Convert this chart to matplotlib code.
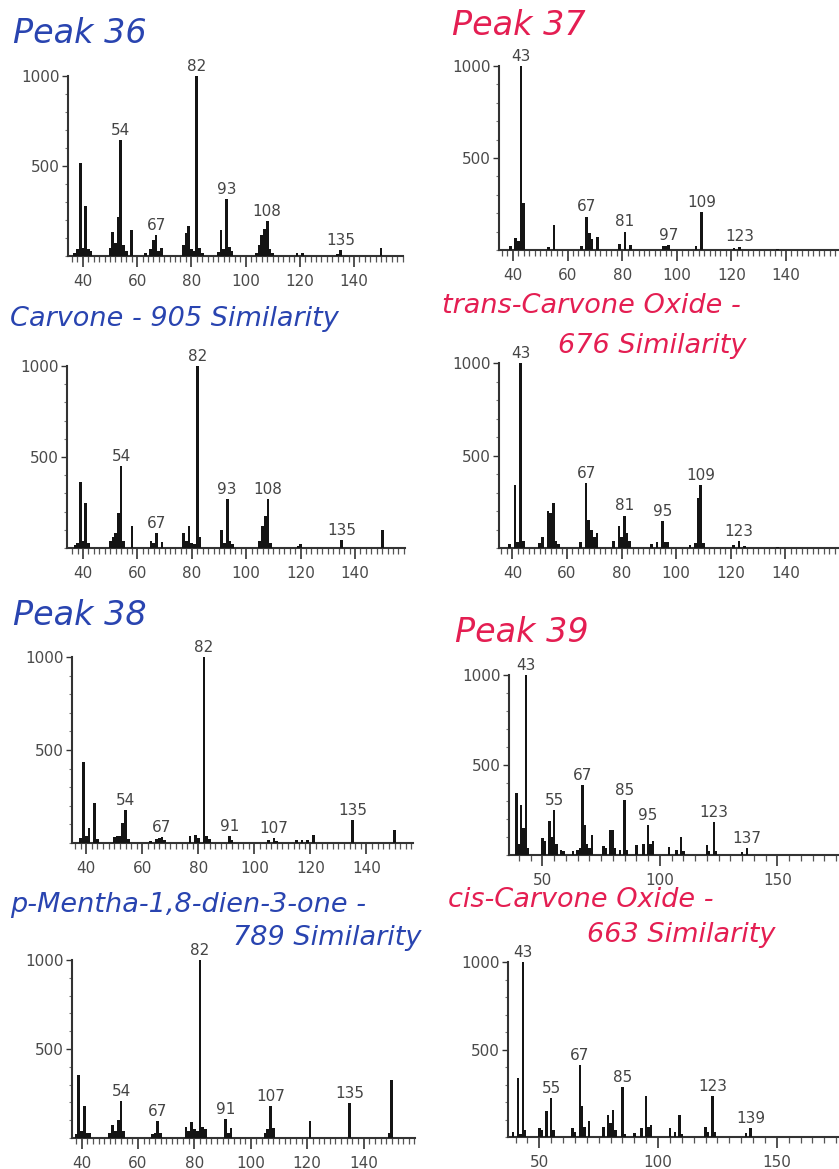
import matplotlib
matplotlib.use("Agg")
import matplotlib.pyplot as plt
from matplotlib.ticker import MultipleLocator

W, H = 839, 1169
BLUE = "#2944b0"
RED = "#e41e52"

# Peak 36 (measured)
p36_mz = [37, 38, 39, 40, 41, 42, 43, 50, 51, 52, 53, 54, 55, 56, 58, 63, 65, 66, 67, 68, 69,
          77, 78, 79, 80, 81, 82, 83, 84, 90, 91, 92, 93, 94, 95, 104, 105, 106, 107, 108, 109,
          110, 119, 121, 134, 135, 150]
p36_int = [15, 40, 515, 45, 278, 40, 30, 45, 135, 70, 218, 644, 60, 30, 144, 15, 40, 89, 117, 30, 43,
           60, 126, 167, 40, 30, 1000, 43, 15, 20, 144, 40, 315, 52, 30, 15, 60, 117, 150, 196, 40,
           15, 15, 15, 10, 35, 45]
p36_lab = [54, 67, 82, 93, 108, 135]

# Carvone (library)
carv_mz = [37, 38, 39, 40, 41, 42, 50, 51, 52, 53, 54, 55, 58, 65, 66, 67, 69, 77, 78, 79, 80, 81,
           82, 83, 91, 92, 93, 94, 95, 105, 106, 107, 108, 109, 119, 120, 135, 150]
carv_int = [15, 30, 360, 40, 247, 25, 40, 60, 80, 192, 448, 40, 119, 40, 30, 82, 35, 80, 40, 122, 30, 20,
            1000, 60, 100, 30, 269, 40, 20, 40, 120, 175, 269, 30, 10, 20, 45, 100]
carv_lab = [54, 67, 82, 93, 108, 135]

# Peak 37 (measured)
p37_mz = [39, 41, 42, 43, 44, 53, 55, 65, 67, 68, 69, 71, 79, 81, 83, 95, 96, 97, 107, 109, 121, 123, 137]
p37_int = [20, 63, 50, 1000, 254, 15, 136, 20, 181, 90, 60, 69, 30, 100, 25, 20, 22, 27, 20, 208, 10, 18, 8]
p37_lab = [43, 67, 81, 97, 109, 123]

# trans-Carvone Oxide (library)
trans_mz = [39, 41, 42, 43, 44, 50, 51, 53, 54, 55, 56, 57, 65, 67, 68, 69, 70, 71, 77, 79, 80, 81, 82,
            83, 91, 93, 95, 96, 97, 105, 107, 108, 109, 110, 121, 123, 125, 137]
trans_int = [20, 342, 30, 1000, 36, 25, 60, 200, 190, 243, 40, 20, 30, 351, 153, 100, 60, 80, 40, 117, 60,
             175, 80, 40, 20, 30, 144, 35, 30, 15, 25, 270, 342, 25, 15, 36, 10, 8]
trans_lab = [43, 67, 81, 95, 109, 123]

# Peak 38 (measured)
p38_mz = [38, 39, 40, 41, 43, 44, 50, 51, 52, 53, 54, 55, 63, 65, 66, 67, 68, 77, 79, 80, 82, 83, 84,
          91, 92, 105, 107, 108, 115, 117, 119, 121, 135, 150]
p38_int = [25, 437, 40, 80, 214, 20, 30, 40, 40, 107, 178, 20, 10, 20, 25, 30, 15, 35, 45, 25, 1000, 40,
           20, 35, 15, 15, 27, 12, 15, 15, 15, 45, 125, 71]
p38_lab = [54, 67, 82, 91, 107, 135]

# p-Mentha-1,8-dien-3-one (library)
ment_mz = [38, 39, 40, 41, 42, 43, 50, 51, 52, 53, 54, 55, 65, 66, 67, 68, 77, 78, 79, 80, 81, 82, 83,
           84, 91, 92, 93, 105, 106, 107, 108, 121, 135, 149, 150]
ment_int = [25, 355, 40, 178, 30, 30, 30, 75, 40, 100, 206, 40, 20, 30, 93, 30, 60, 40, 90, 50, 40, 1000,
            60, 50, 107, 30, 56, 30, 50, 178, 56, 93, 196, 30, 327]
ment_lab = [54, 67, 82, 91, 107, 135]

# Peak 39 (measured)
p39_mz = [39, 40, 41, 42, 43, 44, 50, 51, 53, 54, 55, 56, 58, 59, 63, 65, 66, 67, 68, 69, 70, 71, 76,
          77, 79, 80, 81, 83, 85, 86, 90, 93, 95, 96, 97, 104, 107, 109, 110, 120, 121, 123, 124, 135, 137]
p39_int = [343, 60, 280, 150, 1000, 40, 93, 80, 190, 100, 250, 60, 30, 20, 20, 30, 40, 389, 167, 60, 40,
           111, 50, 40, 139, 139, 40, 30, 306, 30, 55, 60, 167, 60, 80, 45, 30, 100, 25, 55, 20, 185,
           20, 15, 37]
p39_lab = [43, 55, 67, 85, 95, 123, 137]

# cis-Carvone Oxide (library)
cis_mz = [39, 41, 42, 43, 44, 50, 51, 53, 55, 56, 64, 65, 67, 68, 69, 71, 77, 79, 80, 81, 82, 85, 86,
          90, 93, 95, 96, 97, 105, 107, 109, 110, 120, 121, 123, 124, 137, 139]
cis_int = [30, 336, 20, 1000, 40, 50, 40, 150, 222, 40, 50, 30, 412, 175, 60, 90, 60, 127, 80, 156, 40,
           288, 20, 23, 50, 232, 60, 70, 50, 30, 127, 20, 60, 30, 235, 30, 25, 51]
cis_lab = [43, 55, 67, 85, 123, 139]


fig = plt.figure(figsize=(W / 100, H / 100), dpi=100)


def draw_panel(box, mz, inten, labels, xlim, major, minor):
    left, right, top, bottom = box
    ax = fig.add_axes([left / W, 1 - bottom / H, (right - left) / W, (bottom - top) / H])
    ax.bar(mz, inten, width=1.0, color="#141414", zorder=3)
    for lab in labels:
        y = inten[mz.index(lab)]
        ax.text(lab, y + 12, str(lab), ha="center", va="bottom", fontsize=11,
                color="#444444", clip_on=False)
    ax.set_xlim(*xlim)
    ax.set_ylim(0, 1000)
    for side in ("top", "right"):
        ax.spines[side].set_visible(False)
    for side in ("left", "bottom"):
        ax.spines[side].set_color("#333333")
        ax.spines[side].set_linewidth(1.5)
    ax.xaxis.set_major_locator(MultipleLocator(major))
    ax.xaxis.set_minor_locator(MultipleLocator(minor))
    ax.set_yticks([500, 1000])
    ax.yaxis.set_minor_locator(MultipleLocator(100))
    ax.tick_params(axis="x", which="major", length=8, width=1.2, pad=5, labelsize=11,
                   colors="#333333", labelcolor="#4a4a4a")
    ax.tick_params(axis="x", which="minor", length=4, width=0.9, colors="#555555")
    ax.tick_params(axis="y", which="major", length=4, width=1.0, pad=2, labelsize=11,
                   colors="#333333", labelcolor="#4a4a4a")
    ax.tick_params(axis="y", which="minor", length=2, width=0.8, colors="#777777")
    ax.patch.set_alpha(0)
    return ax


draw_panel((68, 403, 76, 256), p36_mz, p36_int, p36_lab, (34.5, 158.1), 20, 2)
draw_panel((499, 839, 66, 250), p37_mz, p37_int, p37_lab, (34.9, 159.4), 20, 2)
draw_panel((67, 405, 366, 548), carv_mz, carv_int, carv_lab, (34.1, 158.4), 20, 2)
draw_panel((499, 839, 363, 548), trans_mz, trans_int, trans_lab, (35.1, 159.6), 20, 2)
draw_panel((72, 413, 657, 843), p38_mz, p38_int, p38_lab, (34.9, 156.6), 20, 2)
draw_panel((509, 839, 675, 855), p39_mz, p39_int, p39_lab, (35.8, 176.2), 50, 5)
draw_panel((72, 415, 960, 1138), ment_mz, ment_int, ment_lab, (36.6, 158.2), 20, 2)
draw_panel((508, 839, 962, 1137), cis_mz, cis_int, cis_lab, (36.8, 176.2), 50, 5)

# titles: (text, x px, baseline px, colour, size)
titles = [
    ("Peak 36", 13, 43, BLUE, 24),
    ("Peak 37", 452, 35, RED, 24),
    ("Carvone - 905 Similarity", 10, 326, BLUE, 19.5),
    ("trans-Carvone Oxide -", 442, 313, RED, 19.5),
    ("676 Similarity", 558, 353, RED, 19.5),
    ("Peak 38", 13, 625, BLUE, 24),
    ("Peak 39", 455, 642, RED, 24),
    ("p-Mentha-1,8-dien-3-one -", 10, 912, BLUE, 19.5),
    ("789 Similarity", 233, 945, BLUE, 19.5),
    ("cis-Carvone Oxide -", 448, 907, RED, 19.5),
    ("663 Similarity", 587, 942, RED, 19.5),
]
for text, x, y, col, size in titles:
    fig.text(x / W, 1 - y / H, text, color=col, fontsize=size, style="italic",
             ha="left", va="baseline")

fig.savefig("out.png", dpi=100)
